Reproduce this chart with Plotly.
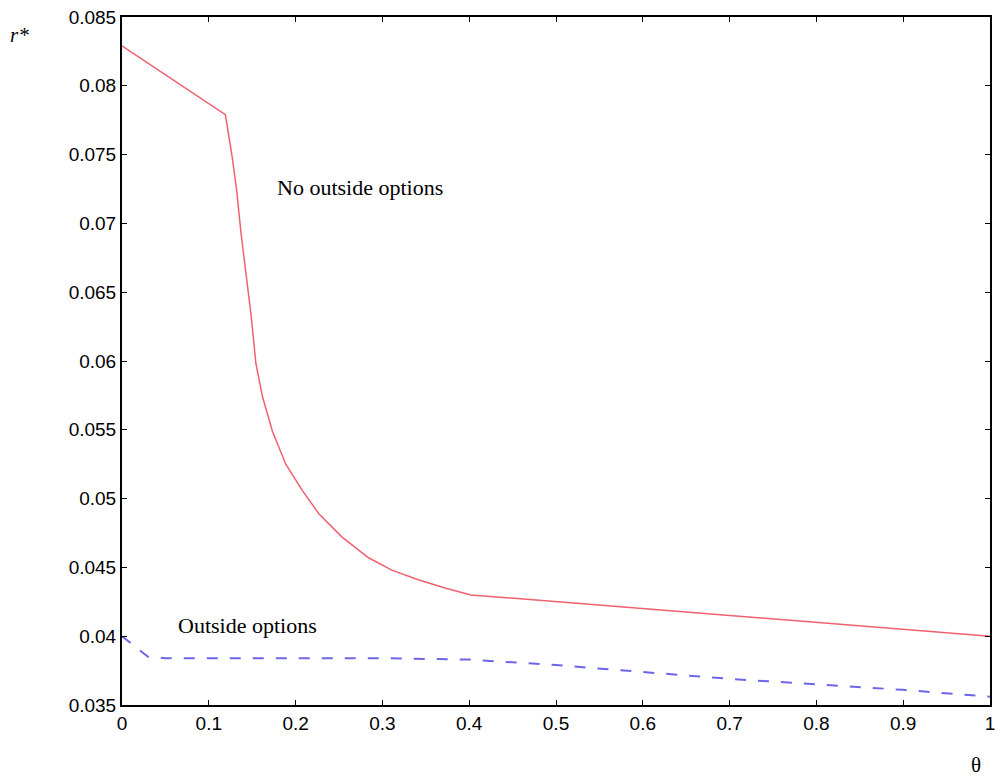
import plotly.graph_objects as go

# Data
theta_no = [0.0, 0.1191, 0.1275, 0.1321, 0.1371, 0.1428, 0.1486, 0.1543, 0.1619, 0.1733,
            0.1887, 0.2077, 0.2268, 0.2535, 0.2841, 0.3108, 0.3414, 0.372, 0.402, 1.0]
r_no = [0.0829, 0.0779, 0.0746, 0.0724, 0.0693, 0.0663, 0.0634, 0.0598, 0.0574, 0.0549,
        0.0525, 0.0506, 0.0489, 0.0472, 0.0457, 0.0448, 0.0441, 0.0435, 0.0430, 0.0400]

theta_out = [0.0, 0.03, 0.05, 0.2, 0.3, 0.4, 0.5, 0.6, 0.7, 0.8, 0.9, 1.0]
r_out = [0.0400, 0.0385, 0.0384, 0.0384, 0.0384, 0.0383, 0.0379, 0.0374, 0.0369, 0.0365, 0.0361, 0.0356]

x_ticks = [0, 0.1, 0.2, 0.3, 0.4, 0.5, 0.6, 0.7, 0.8, 0.9, 1]
x_tick_labels = ["0", "0.1", "0.2", "0.3", "0.4", "0.5", "0.6", "0.7", "0.8", "0.9", "1"]
y_ticks = [0.035, 0.04, 0.045, 0.05, 0.055, 0.06, 0.065, 0.07, 0.075, 0.08, 0.085]
y_tick_labels = ["0.035", "0.04", "0.045", "0.05", "0.055", "0.06", "0.065", "0.07", "0.075", "0.08", "0.085"]

fig = go.Figure()
fig.add_trace(go.Scatter(x=theta_no, y=r_no, mode="lines",
                         line=dict(color="#f0606e", width=1.5), showlegend=False))
fig.add_trace(go.Scatter(x=theta_out, y=r_out, mode="lines",
                         line=dict(color="#6c66e8", width=2, dash="11px,12px"), showlegend=False))

axis_common = dict(showline=True, linecolor="black", linewidth=2, mirror="ticks",
                   ticks="inside", ticklen=5, tickcolor="black", tickwidth=1,
                   showgrid=False, zeroline=False,
                   tickfont=dict(family="Arial, Liberation Sans, sans-serif", size=19, color="black"))

fig.update_xaxes(range=[0, 1], tickvals=x_ticks, ticktext=x_tick_labels, **axis_common)
fig.update_yaxes(range=[0.035, 0.085], tickvals=y_ticks, ticktext=y_tick_labels, **axis_common)

W, H = 999, 778
L, R, T, B = 122, 4, 17, 73
pw, ph = W - L - R, H - T - B


def px_to_paper(px, py):
    return (px - L) / pw, (H - B - py) / ph


serif = "Liberation Serif, Times New Roman, serif"
fig.add_annotation(x=0.274, y=0.0726, xref="x", yref="y", text="No outside options",
                   showarrow=False, xanchor="center", yanchor="middle",
                   font=dict(family=serif, size=22, color="black"))
fig.add_annotation(x=0.145, y=0.0408, xref="x", yref="y", text="Outside options",
                   showarrow=False, xanchor="center", yanchor="middle",
                   font=dict(family=serif, size=22, color="black"))
rx, ry = px_to_paper(19, 35)
fig.add_annotation(x=rx, y=ry, xref="paper", yref="paper", text="<i>r*</i>",
                   showarrow=False, xanchor="center", yanchor="middle",
                   font=dict(family=serif, size=21, color="black"))
tx, ty = px_to_paper(981, 765)
fig.add_annotation(x=tx, y=ty, xref="paper", yref="paper", text="θ",
                   showarrow=False, xanchor="center", yanchor="middle",
                   font=dict(family=serif, size=21, color="black"))

fig.update_layout(width=W, height=H, margin=dict(l=L, r=R, t=T, b=B),
                  plot_bgcolor="white", paper_bgcolor="white")

fig.write_html("out.html")
